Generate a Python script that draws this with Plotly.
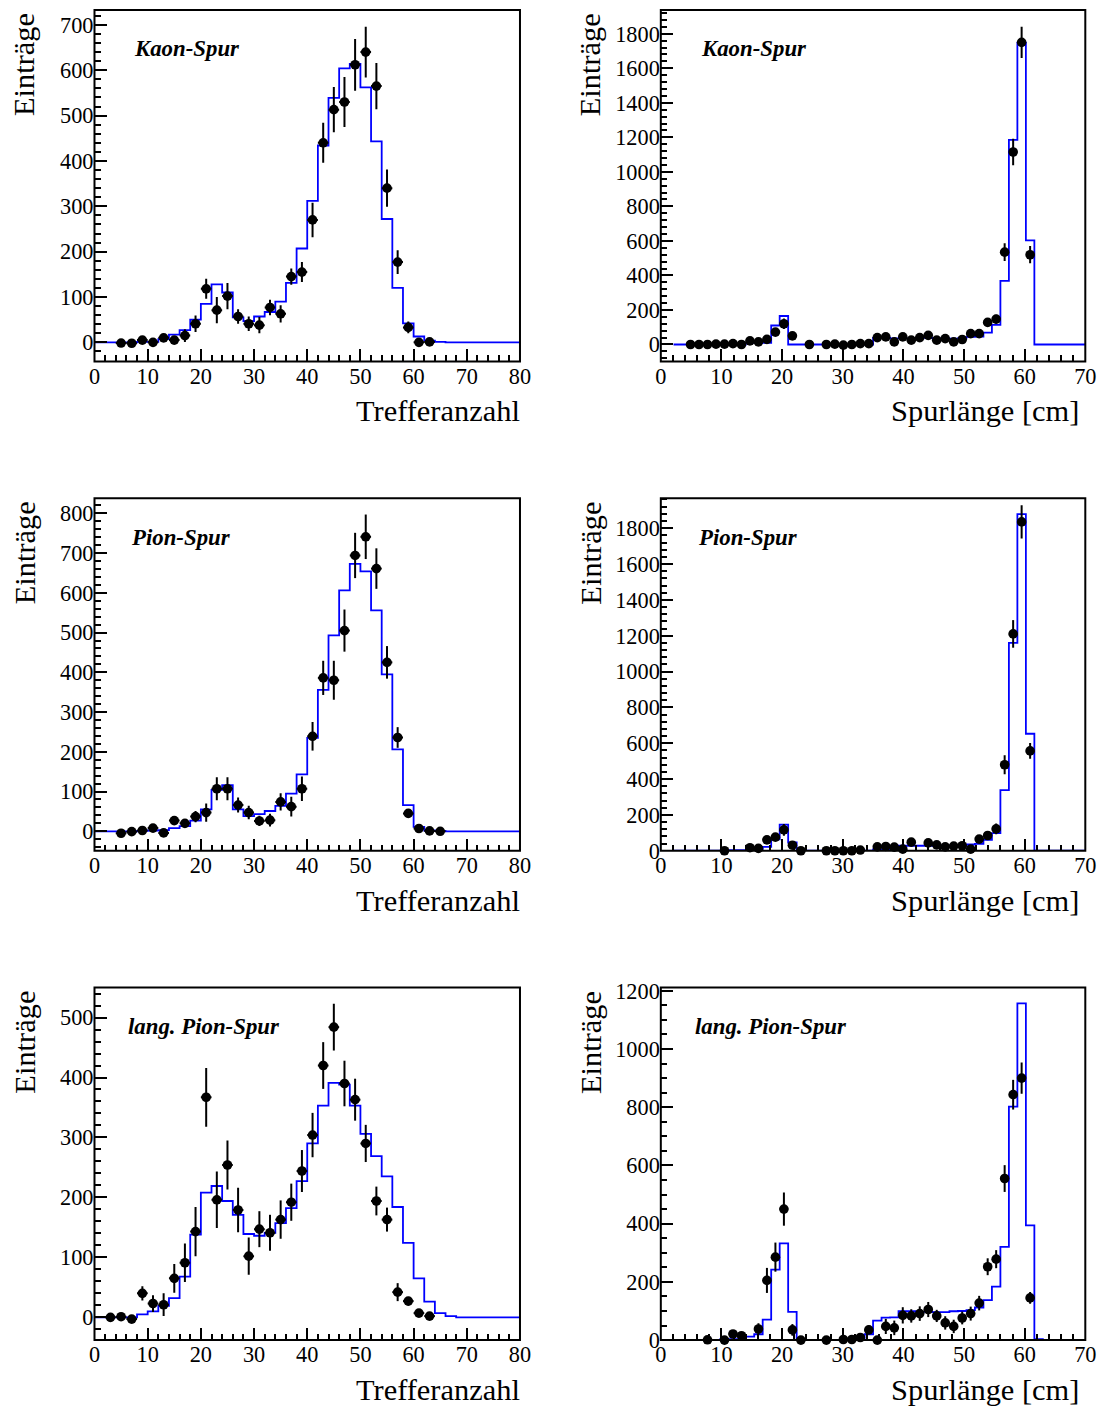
import numpy as np
import plotly.graph_objects as go

# ---------------- data ----------------
# Panel 1: Kaon-Spur, Trefferanzahl
kaon_hits_x = [5, 7, 9, 11, 13, 15, 17, 19, 21, 23, 25, 27, 29, 31, 33, 35, 37, 39, 41, 43,
               45, 47, 49, 51, 53, 55, 57, 59, 61, 63]
kaon_hits_y = [-1.5, -2, 5, 0, 10, 5, 15, 41, 118, 71, 102, 57, 41, 38, 77, 63, 145, 155, 270, 440,
               513, 530, 612, 640, 565, 340, 177, 33, 0, 1]
kaon_hits_err = [3, 3, 5, 3, 6, 8, 14, 18, 22, 29, 29, 16, 16, 18, 17, 19, 18, 22, 38, 44,
                 50, 55, 57, 56, 51, 41, 26, 13, 3, 3]
kaon_hits_mc = [0, 0, 0, 0, 1, 1, 7, 17, 27, 50, 85, 128, 110, 55, 47, 57, 67, 90, 131, 207,
                312, 434, 539, 604, 614, 562, 443, 272, 120, 42, 13, 4, 1, 0, 0, 0, 0, 0, 0, 0]

# Panel 2: Kaon-Spur, Spurlaenge
kaon_len_x = [4.9, 6.3, 7.7, 9.1, 10.5, 11.9, 13.3, 14.7, 16.1, 17.5, 18.9, 20.3, 21.7, 24.5,
              27.3, 28.7, 30.1, 31.5, 32.9, 34.3, 35.7, 37.1, 38.5, 39.9, 41.3, 42.7, 44.1, 45.5,
              46.9, 48.3, 49.7, 51.1, 52.5, 53.9, 55.3, 56.7, 58.1, 59.5, 60.9]
kaon_len_y = [0, 0, 0, 2, 2, 5, 0, 21, 15, 30, 72, 120, 50, 0,
              0, 2, -4, 0, 5, 5, 40, 44, 15, 44, 25, 40, 53, 25,
              34, 15, 29, 63, 63, 128, 147, 535, 1115, 1750, 520]
kaon_len_err = [5, 5, 5, 5, 5, 6, 5, 8, 8, 10, 14, 30, 12, 5,
                5, 5, 5, 5, 5, 5, 10, 10, 8, 10, 8, 10, 10, 8,
                8, 8, 8, 12, 12, 20, 25, 52, 77, 90, 50]
kaon_len_mc = [0, 0, 0, 0, 0, 0, 0, 0, 0, 10, 10, 10, 110, 165,
               0, 0, 0, 0, 0, 0, 0, 0, 0, 0, 38, 38, 36, 36, 36, 38, 38, 36, 36, 34, 36,
               44, 46, 69, 114, 368, 1185, 1748, 603, 0, 0, 0, 0, 0, 0]

# Panel 3: Pion-Spur, Trefferanzahl
pion_hits_x = [5, 7, 9, 11, 13, 15, 17, 19, 21, 23, 25, 27, 29, 31, 33, 35, 37, 39, 41, 43,
               45, 47, 49, 51, 53, 55, 57, 59, 61, 63, 65]
pion_hits_y = [-5, -1, 2, 8, -4, 27, 20, 37, 47, 107, 107, 66, 47, 26, 28, 74, 62, 107, 239, 386,
               380, 505, 694, 741, 661, 425, 236, 45, 7, 1, 0]
pion_hits_err = [3, 3, 4, 5, 4, 6, 10, 14, 23, 29, 29, 19, 17, 13, 16, 22, 25, 31, 36, 43,
                 49, 53, 57, 56, 51, 41, 26, 11, 4, 3, 3]
pion_hits_mc = [0, 0, 0, 0, 1, 2, 3, 8, 13, 27, 55, 104, 116, 55, 38, 43, 51, 64, 95, 143,
                235, 356, 493, 606, 673, 654, 556, 395, 206, 66, 11, 2, 1, 0, 0, 0, 0, 0, 0, 0]

# Panel 4: Pion-Spur, Spurlaenge
pion_len_x = [10.5, 14.7, 16.1, 17.5, 18.9, 20.3, 21.7, 23.1, 27.3, 28.7, 30.1, 31.5, 32.9, 35.7,
              37.1, 38.5, 39.9, 41.3, 44.1, 45.5, 46.9, 48.3, 49.7, 51.1, 52.5, 53.9, 55.3, 56.7,
              58.1, 59.5, 60.9]
pion_len_y = [0, 17, 13, 61, 76, 117, 31, 0, 0, 0, 0, 0, 4, 22,
              24, 20, 9, 48, 44, 33, 22, 26, 28, 9, 65, 85, 122, 480,
              1210, 1835, 557]
pion_len_err = [5, 10, 10, 15, 18, 33, 15, 5, 5, 5, 5, 5, 8, 10,
                10, 10, 8, 12, 12, 10, 10, 10, 10, 8, 15, 18, 30, 53,
                77, 93, 44]
pion_len_mc = [0, 0, 0, 0, 0, 0, 0, 3, 3, 3, 3, 22, 63, 146, 46,
               0, 0, 0, 0, 0, 0, 0, 0, 0, 7, 7, 7, 28, 28, 28, 28, 28, 28, 28, 28,
               35, 38, 61, 98, 338, 1160, 1878, 653, 0, 0, 0, 0, 0, 0]

# Panel 5: lang. Pion-Spur, Trefferanzahl
lpion_hits_x = [3, 5, 7, 9, 11, 13, 15, 17, 19, 21, 23, 25, 27, 29, 31, 33, 35, 37, 39, 41,
                43, 45, 47, 49, 51, 53, 55, 57, 59, 61, 63]
lpion_hits_y = [0, 1, -3, 40, 23, 21, 65, 91, 143, 367, 196, 254, 179, 102, 147, 141, 163, 192, 244, 304,
                420, 484, 390, 363, 290, 194, 163, 42, 27, 7, 2]
lpion_hits_err = [3, 3, 5, 12, 14, 19, 24, 32, 41, 49, 47, 41, 37, 31, 30, 30, 32, 31, 35, 37,
                  39, 39, 38, 35, 31, 24, 20, 15, 7, 4, 3]
lpion_hits_mc = [0, 0, 0, 0, 5, 10, 19, 32, 68, 138, 208, 219, 194, 171, 139, 136, 141, 157, 182, 227,
                 290, 353, 391, 388, 353, 306, 269, 235, 184, 124, 65, 26, 7, 2, 0, 0, 0, 0, 0, 0]

# Panel 6: lang. Pion-Spur, Spurlaenge
lpion_len_x = [4.9, 6.3, 7.7, 10.5, 11.9, 13.3, 16.1, 17.5, 18.9, 20.3, 21.7, 23.1, 27.3, 30.1,
               31.5, 32.9, 34.3, 35.7, 37.1, 38.5, 39.9, 41.3, 42.7, 44.1, 45.5, 46.9, 48.3, 49.7,
               51.1, 52.5, 53.9, 55.3, 56.7, 58.1, 59.5, 60.9]
lpion_len_y = [-2, -2, 1, 0, 21, 15, 38, 205, 285, 450, 35, 0, 0, 2,
               2, 9, 35, 0, 47, 42, 85, 83, 91, 105, 83, 59, 47, 76,
               91, 127, 252, 278, 555, 843, 900, 145]
lpion_len_err = [3, 3, 3, 3, 12, 12, 20, 43, 50, 57, 20, 3, 3, 5,
                 5, 8, 15, 5, 26, 25, 28, 23, 25, 26, 21, 23, 23, 22,
                 24, 25, 29, 31, 46, 51, 54, 20]
lpion_len_mc = [0, 0, 0, 0, 0, 0, 3, 3, 3, 12, 20, 70, 242, 332, 97,
                0, 0, 0, 0, 0, 0, 0, 5, 20, 67, 77, 78, 99, 99, 97, 97, 96, 96, 99, 100,
                103, 112, 137, 184, 320, 802, 1157, 394, 3, 0, 0, 0, 0, 0]

# bin edges
hits_edges = list(np.arange(0, 82, 2))                        # 0..80, width 2
len_edges = [2.1] + [round(1.4 * k, 1) for k in range(2, 51)]  # width 1.4 up to 70

titles = ["Kaon-Spur", "Kaon-Spur", "Pion-Spur", "Pion-Spur", "lang. Pion-Spur", "lang. Pion-Spur"]
title_dx = [38, 38, 35, 35, 32, 32]

# ---------------- layout helpers ----------------
W, H = 1098, 1407
S, OX, OY = 0.9857, 4.4, 7.1       # empirical photo scale / offset compensation
FONT = "Liberation Serif"
col_px = [(93, 519), (660, 1085)]
row_px = [(8, 360), (497, 850), (987, 1340)]


def fx(px):
    return ((px - OX) / S) / W


def fy(py):
    return 1 - ((py - OY) / S) / H


def fs(size):
    return size / S


panels = [
    dict(x=kaon_hits_x, y=kaon_hits_y, e=kaon_hits_err, mc=kaon_hits_mc, edges=hits_edges,
         xr=[0, 80], yr=[-42, 733], dt=100, mdt=20, xe=1.0, r=0, c=0),
    dict(x=kaon_len_x, y=kaon_len_y, e=kaon_len_err, mc=kaon_len_mc, edges=len_edges,
         xr=[0, 70], yr=[-98, 1938], dt=200, mdt=40, xe=0.7, r=0, c=1),
    dict(x=pion_hits_x, y=pion_hits_y, e=pion_hits_err, mc=pion_hits_mc, edges=hits_edges,
         xr=[0, 80], yr=[-49, 838], dt=100, mdt=20, xe=1.0, r=1, c=0),
    dict(x=pion_len_x, y=pion_len_y, e=pion_len_err, mc=pion_len_mc, edges=len_edges,
         xr=[0, 70], yr=[0, 1967], dt=200, mdt=40, xe=0.7, r=1, c=1),
    dict(x=lpion_hits_x, y=lpion_hits_y, e=lpion_hits_err, mc=lpion_hits_mc, edges=hits_edges,
         xr=[0, 80], yr=[-38, 550], dt=100, mdt=20, xe=1.0, r=2, c=0),
    dict(x=lpion_len_x, y=lpion_len_y, e=lpion_len_err, mc=lpion_len_mc, edges=len_edges,
         xr=[0, 70], yr=[0, 1211], dt=200, mdt=50, xe=0.7, r=2, c=1),
]

fig = go.Figure()
layout = dict(width=W, height=H, margin=dict(l=0, r=0, t=0, b=0),
              paper_bgcolor="white", plot_bgcolor="white", showlegend=False,
              font=dict(family=FONT, color="black"))
annotations = []
shapes = []

for i, p in enumerate(panels):
    n = i + 1
    xa = "xaxis" if n == 1 else f"xaxis{n}"
    ya = "yaxis" if n == 1 else f"yaxis{n}"
    xref = "x" if n == 1 else f"x{n}"
    yref = "y" if n == 1 else f"y{n}"
    x0, x1 = col_px[p["c"]]
    t0, t1 = row_px[p["r"]]
    axis_common = dict(showline=False, ticks="inside", ticklen=fs(12), tickwidth=1.5,
                       tickcolor="black", showgrid=False, zeroline=False,
                       tickfont=dict(family=FONT, size=fs(22), color="black"))
    layout[xa] = dict(axis_common, domain=[fx(x0), fx(x1)], range=p["xr"], anchor=yref,
                      tick0=0, dtick=10, ticklabelstandoff=-1,
                      minor=dict(ticks="inside", ticklen=fs(6), tickwidth=1.5, tickcolor="black",
                                 dtick=2))
    layout[ya] = dict(axis_common, domain=[fy(t1), fy(t0)], range=p["yr"], anchor=xref,
                      tick0=0, dtick=p["dt"], ticklabelstandoff=0,
                      minor=dict(ticks="inside", ticklen=fs(6), tickwidth=1.5, tickcolor="black",
                                 dtick=p["mdt"]))
    # frame drawn on top of the traces
    shapes.append(dict(type="rect", xref="paper", yref="paper",
                       x0=fx(x0), x1=fx(x1), y0=fy(t1), y1=fy(t0),
                       line=dict(color="black", width=2), fillcolor="rgba(0,0,0,0)", layer="above"))
    # MC histogram
    edges = p["edges"]
    fig.add_trace(go.Scatter(x=edges, y=list(p["mc"]) + [p["mc"][-1]], mode="lines",
                             line=dict(color="#0000ff", width=1.8, shape="hv"),
                             xaxis=xref, yaxis=yref, hoverinfo="skip"))
    # data points
    fig.add_trace(go.Scatter(x=p["x"], y=p["y"], mode="markers",
                             marker=dict(color="black", size=fs(9.5), symbol="circle"),
                             error_y=dict(type="data", array=p["e"], color="black",
                                          thickness=2, width=0),
                             error_x=dict(type="constant", value=p["xe"], color="black",
                                          thickness=2, width=0),
                             cliponaxis=False, xaxis=xref, yaxis=yref))
    # panel label
    annotations.append(dict(text="<b><i>" + titles[i] + "</i></b>", xref="paper", yref="paper",
                            x=fx(x0 + title_dx[i]), y=fy(t0 + 39), xanchor="left", yanchor="middle",
                            showarrow=False, font=dict(family=FONT, size=fs(22.5), color="black")))
    # y title
    annotations.append(dict(text="Einträge", xref="paper", yref="paper",
                            x=fx(x0 - 70), y=fy(t0 + 1), xanchor="center", yanchor="top",
                            textangle=-90, showarrow=False,
                            font=dict(family=FONT, size=fs(30), color="black")))
    # x title
    xt = "Trefferanzahl" if p["c"] == 0 else "Spurlänge [cm]"
    annotations.append(dict(text=xt, xref="paper", yref="paper",
                            x=fx(x1 - 4 if p["c"] == 1 else x1 + 2), y=fy(t1 + 50),
                            xanchor="right", yanchor="middle", showarrow=False,
                            font=dict(family=FONT, size=fs(30), color="black")))

layout["annotations"] = annotations
layout["shapes"] = shapes
fig.update_layout(**layout)
fig.write_html("out.html", config={"displayModeBar": False},
               post_script="document.body.style.margin='0px';")
